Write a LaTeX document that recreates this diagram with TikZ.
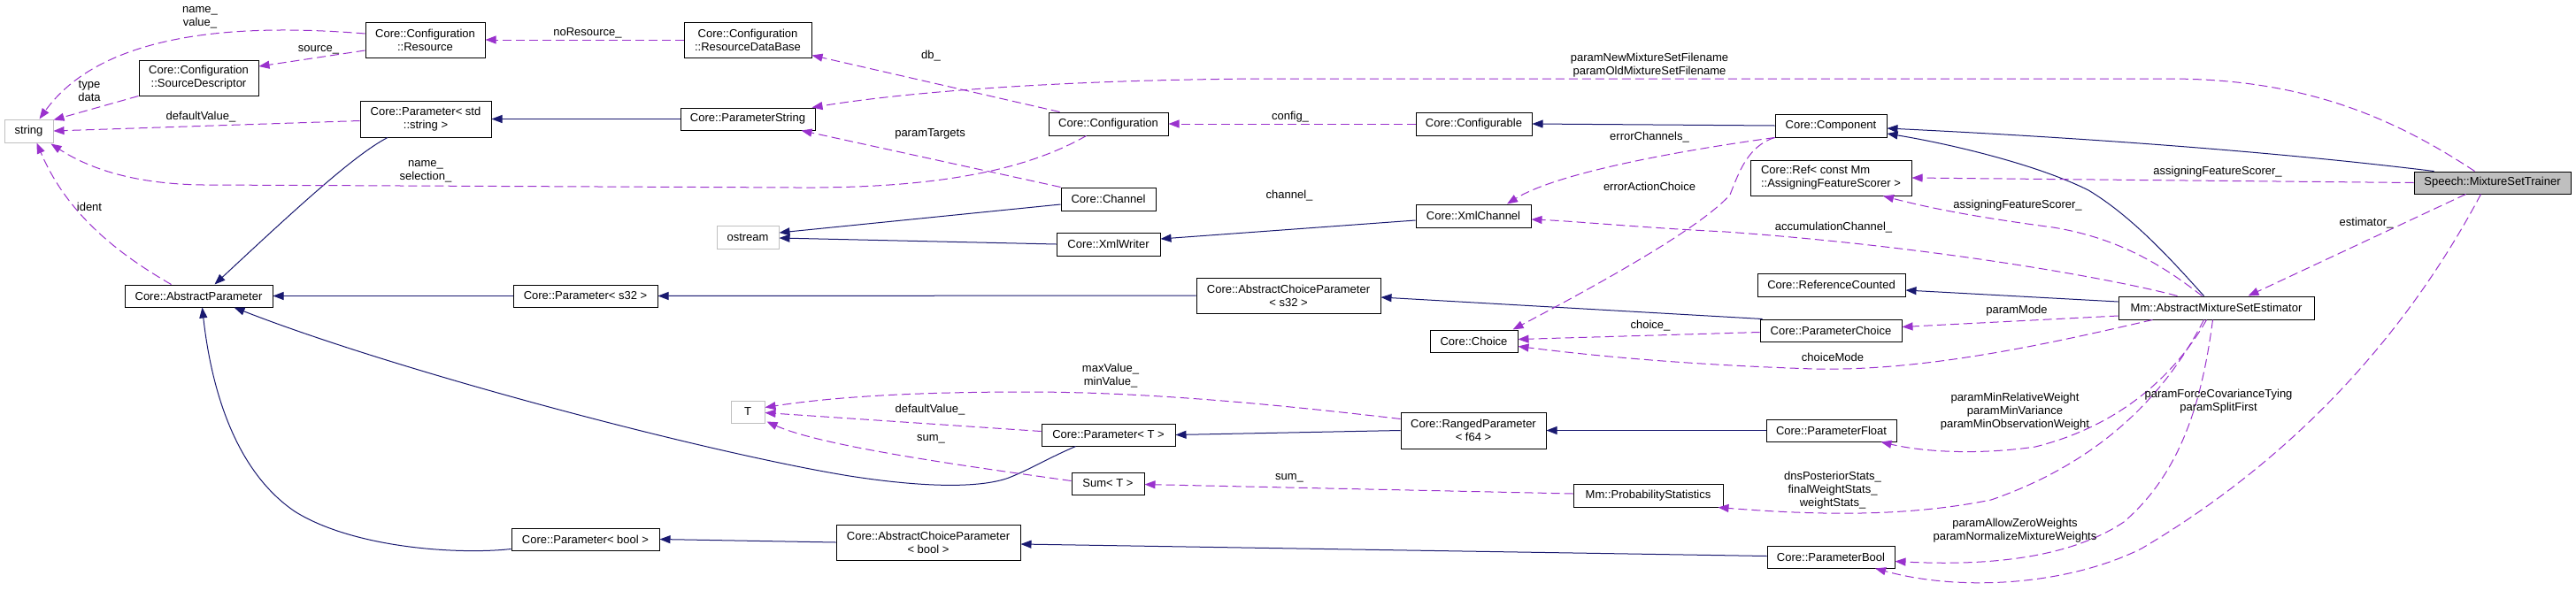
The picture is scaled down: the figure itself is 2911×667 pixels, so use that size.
\documentclass[tikz,border=0pt]{standalone}
\usepackage{fontspec}
\setmainfont{Liberation Sans}
\usetikzlibrary{arrows.meta}
\definecolor{inhc}{HTML}{191970}
\definecolor{usec}{HTML}{9A32CD}
\definecolor{grayb}{HTML}{BFBFBF}
\begin{document}
\begin{tikzpicture}[x=1pt,y=-1pt,
  font=\fontsize{13}{15}\selectfont,
  cls/.style={draw=black,line width=1pt,inner sep=0pt,align=center,fill=white},
  ext/.style={cls,draw=grayb},
  inh/.style={inhc,line width=1pt,-{Triangle[length=12pt,width=9pt]}},
  use/.style={usec,line width=1pt,dash pattern=on 10pt off 5pt,-{Triangle[length=12pt,width=9pt]}},
  lbl/.style={inner sep=0pt,align=center,text=black},
]
\fill[white] (0,0) rectangle (2911,667);
\useasboundingbox (0,0) rectangle (2911,667);

% nodes
\node[ext,minimum width=55pt,minimum height=26pt] (str) at (32.5,148) {string};
\node[cls,minimum width=135pt,minimum height=40pt] (srcdesc) at (224.5,88) {Core::Configuration\\::SourceDescriptor};
\node[cls,minimum width=135pt,minimum height=40pt] (resource) at (480.5,45) {Core::Configuration\\::Resource};
\node[cls,minimum width=148pt,minimum height=41pt] (pstr) at (481,134.5) {Core::Parameter< std\\::string >};
\node[cls,minimum width=167pt,minimum height=25pt] (absparam) at (224.5,334.5) {Core::AbstractParameter};
\node[cls,minimum width=144pt,minimum height=40pt] (resdb) at (845,45) {Core::Configuration\\::ResourceDataBase};
\node[cls,minimum width=152pt,minimum height=25pt] (paramstring) at (845,134.5) {Core::ParameterString};
\node[ext,minimum width=70pt,minimum height=26pt] (ostream) at (845,268) {ostream};
\node[cls,minimum width=163pt,minimum height=25pt] (ps32) at (661.5,334.5) {Core::Parameter< s32 >};
\node[ext,minimum width=38pt,minimum height=25pt] (T) at (845,465.5) {T};
\node[cls,minimum width=167pt,minimum height=25pt] (pbool) at (661.5,609.5) {Core::Parameter< bool >};
\node[cls,minimum width=208pt,minimum height=40pt] (acpbool) at (1049,613) {Core::AbstractChoiceParameter\\< bool >};
\node[cls,minimum width=151pt,minimum height=25pt] (pT) at (1252.5,491.5) {Core::Parameter< T >};
\node[cls,minimum width=82pt,minimum height=25pt] (sumT) at (1252,546.5) {Sum< T >};
\node[cls,minimum width=208pt,minimum height=40pt] (acps32) at (1456,334) {Core::AbstractChoiceParameter\\< s32 >};
\node[cls,minimum width=135pt,minimum height=26pt] (config) at (1252.5,140) {Core::Configuration};
\node[cls,minimum width=107pt,minimum height=26pt] (channel) at (1252.5,225) {Core::Channel};
\node[cls,minimum width=117pt,minimum height=26pt] (xmlwriter) at (1252.5,276) {Core::XmlWriter};
\node[cls,minimum width=131pt,minimum height=26pt] (configurable) at (1665.5,140) {Core::Configurable};
\node[cls,minimum width=130pt,minimum height=26pt] (xmlchannel) at (1665,244) {Core::XmlChannel};
\node[cls,minimum width=99pt,minimum height=25pt] (choice) at (1665.5,385.5) {Core::Choice};
\node[cls,minimum width=164pt,minimum height=41pt] (ranged) at (1665,486.5) {Core::RangedParameter\\< f64 >};
\node[cls,minimum width=169pt,minimum height=26pt] (probstats) at (1862.5,560) {Mm::ProbabilityStatistics};
\node[cls,minimum width=126pt,minimum height=26pt] (component) at (2069,142) {Core::Component};
\node[cls,minimum width=182pt,minimum height=40pt,align=left] (ref) at (2069,201) {Core::Ref< const Mm\\::AssigningFeatureScorer >};
\node[cls,minimum width=167pt,minimum height=26pt] (refcounted) at (2069.5,322) {Core::ReferenceCounted};
\node[cls,minimum width=160pt,minimum height=25pt] (pchoice) at (2069,373.5) {Core::ParameterChoice};
\node[cls,minimum width=147pt,minimum height=25pt] (pfloat) at (2069.5,486.5) {Core::ParameterFloat};
\node[cls,minimum width=144pt,minimum height=25pt] (pboolc) at (2069,629.5) {Core::ParameterBool};
\node[cls,minimum width=221pt,minimum height=26pt] (estimator) at (2504.5,348) {Mm::AbstractMixtureSetEstimator};
\node[cls,fill=grayb,minimum width=177pt,minimum height=25pt] (trainer) at (2816.5,206.5) {Speech::MixtureSetTrainer};

% inheritance edges
\draw[inh] ([xshift=-43pt]pstr.south) .. controls (400,175) and (330,240) .. ([xshift=18pt]absparam.north);
\draw[inh] (paramstring.west) -- (pstr.east);
\draw[inh] (ps32.west) -- (absparam.east);
\draw[inh] (acps32.west) -- (ps32.east);
\draw[inh] ([xshift=-37pt]pT.south) .. controls (1180,520) and (1165,530) .. (1140,540) .. controls (1110,551) and (1050,552) .. (960,538) .. controls (800,512) and (450,420) .. ([xshift=40pt]absparam.south);
\draw[inh] ([yshift=-11pt]pbool.west) .. controls (520,627) and (400,620) .. (333,578) .. controls (270,535) and (240,450) .. ([xshift=4pt]absparam.south);
\draw[inh] (acpbool.west) -- (pbool.east);
\draw[inh] (ranged.west) -- (pT.east);
\draw[inh] (pfloat.west) -- (ranged.east);
\draw[inh] ([yshift=1pt]pboolc.west) -- ([yshift=-2pt]acpbool.east);
\draw[inh] ([xshift=3pt]pchoice.north west) -- ([yshift=-2pt]acps32.east);
\draw[inh] ([yshift=-6pt]channel.west) -- ([yshift=5pt]ostream.east);
\draw[inh] (xmlwriter.west) -- ([yshift=-1pt]ostream.east);
\draw[inh] ([yshift=-5pt]xmlchannel.west) -- ([yshift=6pt]xmlwriter.east);
\draw[inh] (component.west) -- (configurable.east);
\draw[inh] ([xshift=-66pt]trainer.north) .. controls (2600,175) and (2400,158) .. ([yshift=-3pt]component.east);
\draw[inh] ([xshift=-14pt]estimator.north) .. controls (2455,295) and (2410,245) .. (2360,215) .. controls (2300,185) and (2200,162) .. ([yshift=-9pt]component.east);
\draw[inh] ([yshift=7pt]estimator.west) -- ([yshift=-6pt]refcounted.east);

% usage edges
\draw[use] ([yshift=7pt]resource.west) .. controls (290,28) and (120,30) .. ([xshift=12pt]str.north);
\draw[use] ([yshift=-12pt]resource.west) -- ([yshift=13pt]srcdesc.east);
\draw[use] (srcdesc.south west) -- ([yshift=-1pt]str.north east);
\draw[use] ([yshift=-2pt]pstr.west) -- (str.east);
\draw[use] ([xshift=-25pt]config.south) .. controls (1160,192) and (1060,213) .. (900,212) -- (230,209) .. controls (150,208) and (100,190) .. ([xshift=-3pt,yshift=-1pt]str.south east);
\draw[use] ([xshift=-55pt]config.north) -- ([yshift=3pt]resdb.south east);
\draw[use] (resdb.west) -- (resource.east);
\draw[use] ([xshift=-20pt]trainer.north) .. controls (2700,130) and (2600,89) .. (2450,89) -- (1450,89) .. controls (1250,89) and (1050,100) .. ([xshift=-4pt]paramstring.north east);
\draw[use] (channel.north west) -- ([xshift=-16pt]paramstring.south east);
\draw[use] (configurable.west) -- (config.east);
\draw[use] (component.south west) .. controls (1900,170) and (1760,195) .. ([xshift=38pt]xmlchannel.north);
\draw[use] (component.south west) .. controls (1975,165) and (1965,195) .. (1955,220) .. controls (1920,260) and (1790,330) .. ([xshift=44pt]choice.north);
\draw[use] ([xshift=-44pt]estimator.north) .. controls (2400,318) and (2200,280) .. (1950,262) .. controls (1850,257) and (1780,250) .. ([yshift=-4pt]xmlchannel.east);
\draw[use] ([xshift=-16pt]estimator.north) .. controls (2450,305) and (2400,270) .. (2320,257) .. controls (2230,245) and (2180,235) .. ([xshift=59pt]ref.south);
\draw[use] (trainer.west) -- (ref.east);
\draw[use] ([xshift=-30pt]trainer.south) -- ([xshift=36pt]estimator.north);
\draw[use] ([yshift=-9pt]estimator.west) -- ([yshift=4pt]pchoice.east);
\draw[use] ([xshift=-72pt]estimator.south) .. controls (2330,385) and (2180,420) .. (2050,417) .. controls (1900,412) and (1800,402) .. ([yshift=-6pt]choice.east);
\draw[use] ([yshift=-2pt]pchoice.west) -- ([yshift=2pt]choice.east);
\draw[use] ([yshift=13pt]ranged.west) .. controls (1450,458) and (1300,443) .. (1160,443) .. controls (1000,443) and (920,452) .. ([yshift=5pt]T.east);
\draw[use] ([yshift=4pt]pT.west) -- ([yshift=-1pt]T.east);
\draw[use] ([yshift=3pt]sumT.west) .. controls (1100,528) and (930,505) .. ([xshift=2pt,yshift=2pt]T.south east);
\draw[use] ([yshift=2pt]probstats.west) -- ([yshift=-1pt]sumT.east);
\draw[use] ([xshift=-31pt]absparam.north) .. controls (130,285) and (75,240) .. ([xshift=9pt]str.south);
\draw[use] ([xshift=-11pt]estimator.south) .. controls (2460,420) and (2400,480) .. (2300,505) .. controls (2230,515) and (2170,510) .. ([xshift=56pt]pfloat.south);
\draw[use] ([xshift=-14pt]estimator.south) .. controls (2450,440) and (2380,520) .. (2250,565) .. controls (2150,585) and (2050,582) .. ([xshift=-6pt]probstats.south east);
\draw[use] ([xshift=-4pt]estimator.south) .. controls (2490,440) and (2470,530) .. (2400,590) .. controls (2340,630) and (2250,640) .. ([yshift=-5pt]pboolc.east);
\draw[use] ([xshift=-13pt]trainer.south) .. controls (2750,320) and (2640,490) .. (2420,620) .. controls (2340,660) and (2220,670) .. ([xshift=50pt]pboolc.south);

% labels
\node[lbl] (l1) at (226,20) {name\_\\value\_};
\node[lbl] (l2) at (360,56) {source\_};
\node[lbl] (l3) at (101,103) {type\\data};
\node[lbl] (l4) at (227,132) {defaultValue\_};
\node[lbl] (l5) at (481,194) {name\_\\selection\_};
\node[lbl] (l6) at (664,37) {noResource\_};
\node[lbl] (l7) at (1052,63) {db\_};
\node[lbl] (l8) at (1051,151) {paramTargets};
\node[lbl] (l9) at (1458,132) {config\_};
\node[lbl] (l10) at (1457,221) {channel\_};
\node[lbl] (l11) at (1864,74) {paramNewMixtureSetFilename\\paramOldMixtureSetFilename};
\node[lbl] (l12) at (1864,155) {errorChannels\_};
\node[lbl] (l13) at (1864,211) {errorActionChoice};
\node[lbl] (l14) at (2506,194) {assigningFeatureScorer\_};
\node[lbl] (l15) at (2674,252) {estimator\_};
\node[lbl] (l16) at (2280,232) {assigningFeatureScorer\_};
\node[lbl] (l17) at (2072,257) {accumulationChannel\_};
\node[lbl] (l18) at (2279,351) {paramMode};
\node[lbl] (l19) at (2071,404) {choiceMode};
\node[lbl] (l20) at (1865,368) {choice\_};
\node[lbl] (l21) at (2277,465) {paramMinRelativeWeight\\paramMinVariance\\paramMinObservationWeight};
\node[lbl] (l22) at (2071,554) {dnsPosteriorStats\_\\finalWeightStats\_\\weightStats\_};
\node[lbl] (l23) at (2277,600) {paramAllowZeroWeights\\paramNormalizeMixtureWeights};
\node[lbl] (l24) at (2507,454) {paramForceCovarianceTying\\paramSplitFirst};
\node[lbl] (l25) at (1255,425) {maxValue\_\\minValue\_};
\node[lbl] (l26) at (1051,463) {defaultValue\_};
\node[lbl] (l27) at (1052,496) {sum\_};
\node[lbl] (l28) at (1457,540) {sum\_};
\node[lbl] (l29) at (101,234) {ident};
\end{tikzpicture}
\end{document}
